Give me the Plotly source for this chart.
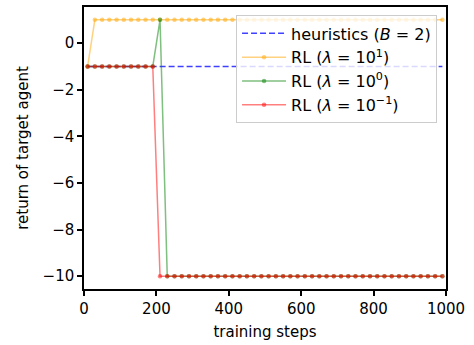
import plotly.graph_objects as go

steps = [10 + 20 * i for i in range(50)]
heuristics = [-1] * 50
rl_lam_1e1 = [-1] + [1] * 49
rl_lam_1e0 = [-1] * 10 + [1] + [-10] * 39
rl_lam_1em1 = [-1] * 10 + [-10] * 40

x_ticks = [0, 200, 400, 600, 800, 1000]
y_ticks = [0, -2, -4, -6, -8, -10]

FONT = "DejaVu Sans"
fig = go.Figure()

fig.add_trace(go.Scatter(
    x=steps, y=heuristics, mode="lines", name="heuristics (<i>B</i> = 2)",
    legendgroup="g0",
    line=dict(color="rgba(0,0,255,0.75)", width=1.5, dash="6px,3px"),
))

def rl(y, rgb, name, grp):
    fig.add_trace(go.Scatter(
        x=steps, y=y, mode="lines+markers", name=name, legendgroup=grp,
        line=dict(color=f"rgba({rgb},0.5)", width=1.5),
        marker=dict(color=f"rgba({rgb},0.5)", size=4.5, line=dict(width=0)),
    ))

rl(rl_lam_1e1, "255,165,0", "RL (<i>λ</i> = 10<sup>1</sup>)", "g1")
rl(rl_lam_1e0, "0,128,0", "RL (<i>λ</i> = 10<sup>0</sup>)", "g2")
rl(rl_lam_1em1, "255,0,0", "RL (<i>λ</i> = 10<sup>−1</sup>)", "g3")

axis_common = dict(
    showgrid=False, zeroline=False, showline=True, linecolor="black", linewidth=1.5,
    mirror=True, ticks="outside", ticklen=5, tickwidth=1.5, tickcolor="black",
    tickfont=dict(family=FONT, size=15, color="black"),
)

fig.update_layout(
    width=474, height=345,
    margin=dict(l=84, r=28, t=5, b=56),
    plot_bgcolor="white", paper_bgcolor="white",
    font=dict(family=FONT, size=15, color="black"),
    xaxis=dict(range=[0, 1000], tickvals=x_ticks, title=dict(text="training steps", font=dict(size=15), standoff=10), **axis_common),
    yaxis=dict(range=[-10.55, 1.55], tickvals=y_ticks, title=dict(text="return of target agent", font=dict(size=15), standoff=10), **axis_common),
    legend=dict(
        x=0.42, y=0.97, xanchor="left", yanchor="top",
        bgcolor="rgba(255,255,255,0.8)", bordercolor="rgba(204,204,204,1)", borderwidth=1,
        font=dict(family=FONT, size=16, color="black"),
        tracegroupgap=0, itemwidth=44,
    ),
)

fig.write_html("out.html")
